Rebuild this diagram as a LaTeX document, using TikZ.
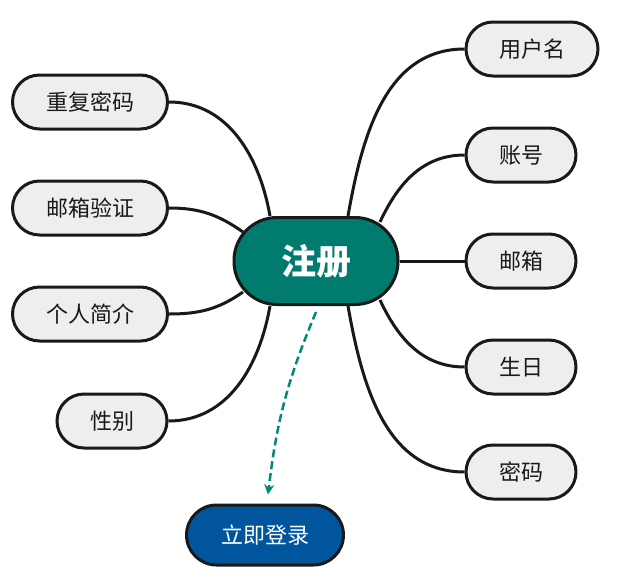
\documentclass[tikz,border=0pt]{standalone}
\usepackage{fontspec}
\setmainfont{Noto Sans CJK SC}
\usetikzlibrary{backgrounds, arrows.meta}
\definecolor{regteal}{HTML}{007B6E}
\definecolor{loginblue}{HTML}{00559D}
\definecolor{leafgray}{HTML}{EEEEEE}
\definecolor{arrowteal}{HTML}{00897B}
\begin{document}
\begin{tikzpicture}[x=1pt, y=1pt, >={Stealth[length=10pt, width=10pt]}, every node/.style={align=center},
  leaf/.style={draw=black!90, line width=3pt, fill=leafgray, rectangle, rounded corners=27pt,
    minimum height=54pt, inner sep=0pt, text=black!90, font=\fontsize{22}{26}\selectfont},
  link/.style={line width=3pt, draw=black!90}]
\useasboundingbox (0,0) rectangle (618,-581);

% Nodes
\node[draw=black!90, line width=3pt, fill=regteal, rounded corners=43pt, minimum width=164pt, minimum height=87pt, inner sep=0pt, text=white, font=\fontsize{35}{40}\selectfont\bfseries] (register) at (316,-261) {注册};
\node[leaf, minimum width=132pt] (username) at (532,-49) {用户名};
\node[leaf, minimum width=110pt] (account) at (521,-155) {账号};
\node[leaf, minimum width=110pt] (email) at (521,-261) {邮箱};
\node[leaf, minimum width=110pt] (birthday) at (521,-367) {生日};
\node[leaf, minimum width=110pt] (password) at (521,-472) {密码};
\node[leaf, minimum width=155pt] (repeat) at (90,-102) {重复密码};
\node[leaf, minimum width=155pt] (verify) at (90,-208) {邮箱验证};
\node[leaf, minimum width=155pt] (profile) at (90,-314) {个人简介};
\node[leaf, minimum width=110pt] (gender) at (112,-421) {性别};
\node[draw=black!90, line width=3pt, fill=loginblue, rounded corners=30pt, minimum width=157pt, minimum height=60pt, inner sep=0pt, text=white, font=\fontsize{22}{26}\selectfont] (login) at (265,-535) {立即登录};

% Edges
\begin{scope}[on background layer]
\draw[link] (username.west) to[out=180, in=80] ([shift={(32,45)}]register.center);
\draw[link] (account.west) to[out=180, in=65] ([shift={(64,39)}]register.center);
\draw[link] (email.west) -- (register.east);
\draw[link] (birthday.west) to[out=180, in=-65] ([shift={(64,-39)}]register.center);
\draw[link] (password.west) to[out=180, in=-80] ([shift={(32,-45)}]register.center);
\draw[link] (repeat.east) to[out=0, in=100] ([shift={(-46,45)}]register.center);
\draw[link] (verify.east) to[out=0, in=145] ([shift={(-73,29)}]register.center);
\draw[link] (profile.east) to[out=0, in=-145] ([shift={(-73,-31)}]register.center);
\draw[link] (gender.east) to[out=0, in=-100] ([shift={(-46,-45)}]register.center);
\end{scope}
\draw[->, arrowteal, line width=2.5pt, dash pattern=on 8pt off 4pt] ([yshift=-6]register.south) to[bend right=8] ([shift={(3,9)}]login.north);

\end{tikzpicture}
\end{document}
